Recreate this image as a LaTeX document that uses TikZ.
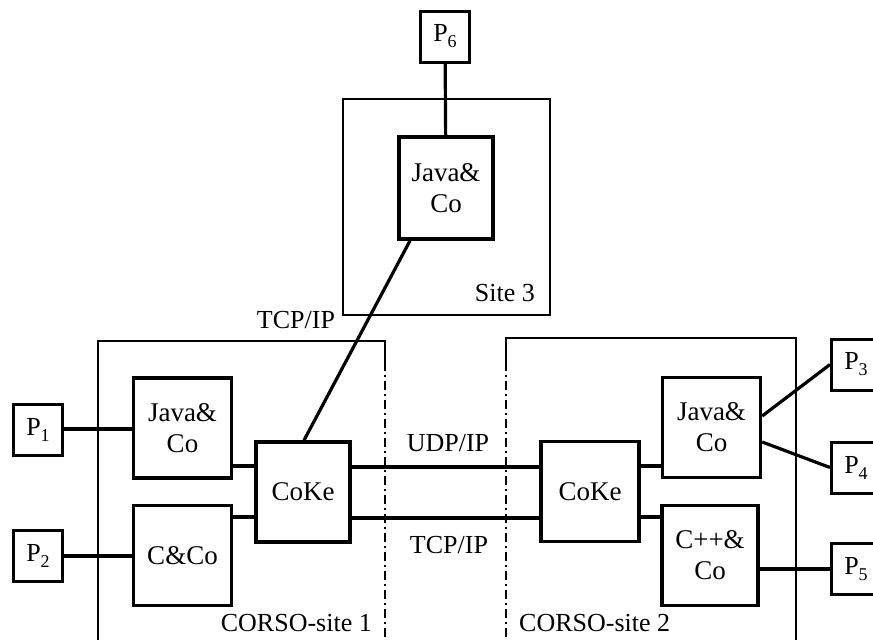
\documentclass[tikz,border=0pt]{standalone}
\usepackage{fontspec}
\setmainfont{Liberation Serif}
\usetikzlibrary{positioning, calc}
\tikzset{
	compbox/.style={draw, line width=3.4pt, minimum width=98pt, minimum height=100pt, align=center, inner sep=0pt, font=\fontsize{27}{31}\selectfont},
	procbox/.style={draw, line width=3pt, minimum width=49pt, minimum height=51pt, inner sep=0pt, font=\fontsize{26}{30}\selectfont},
	conn/.style={line width=3.2pt},
	siteline/.style={line width=1.8pt},
	sitegap/.style={line width=1.8pt, dash pattern=on 9pt off 4pt on 2pt off 4pt},
	lbl/.style={inner sep=0pt, font=\fontsize{26}{30}\selectfont},
}
\newcommand{\proc}[1]{P\raisebox{-0.5ex}{\fontsize{18}{20}\selectfont #1}}

\begin{document}
\begin{tikzpicture}[x=1pt, y=-1pt]
	\useasboundingbox (0,0) rectangle (873,640);
	% site frames
	\draw[siteline] (343,99) rectangle (550,315);
	\draw[siteline] (98,640) -- (98,341) -- (385,341) -- (385,362);
	\draw[sitegap] (385,362) -- (385,640);
	\draw[siteline] (506,362) -- (506,338) -- (796,338) -- (796,640);
	\draw[sitegap] (506,362) -- (506,640);
	% site 3
	\node[procbox] (p6) at (445,36.5) {\proc{6}};
	\node[compbox, minimum width=94pt, minimum height=102pt] (java3) at (446,188) {Java\&\\Co};
	% site 1
	\node[procbox] (p1) at (38,430) {\proc{1}};
	\node[procbox] (p2) at (38,556) {\proc{2}};
	\node[compbox] (java1) at (182.5,428) {Java\&\\Co};
	\node[compbox] (cco1) at (182.5,555.5) {C\&Co};
	\node[compbox, minimum width=94pt] (coke1) at (303,492) {CoKe};
	% site 2
	\node[compbox] (coke2) at (590,491.5) {CoKe};
	\node[compbox] (java2) at (711.5,427.5) {Java\&\\Co};
	\node[compbox, minimum width=96pt] (cpp2) at (710,555.5) {C++\&\\Co};
	\node[procbox] (p3) at (856,364.5) {\proc{3}};
	\node[procbox] (p4) at (856,467.5) {\proc{4}};
	\node[procbox] (p5) at (856,569) {\proc{5}};
	% connectors
	\draw[conn] (p6) -- (java3);
	\draw[conn] ([xshift=-36pt]java3.south) -- ([xshift=1pt]coke1.north);
	\draw[conn] (p1.east |- 0,429) -- (java1.west |- 0,429);
	\draw[conn] (p2) -- (cco1.west |- p2);
	\draw[conn] (java1.east |- 0,466) -- (coke1.west |- 0,466);
	\draw[conn] (cco1.east |- 0,517) -- (coke1.west |- 0,517);
	\draw[conn] (coke1.east |- 0,467) -- (coke2.west |- 0,467);
	\draw[conn] (coke1.east |- 0,518) -- (coke2.west |- 0,518);
	\draw[conn] (coke2.east |- 0,466) -- (java2.west |- 0,466);
	\draw[conn] (coke2.east |- 0,517) -- (cpp2.west |- 0,517);
	\draw[conn] (java2.east |- 0,416) -- (p3.west);
	\draw[conn] (java2.east |- 0,442) -- (p4.west);
	\draw[conn] (cpp2.east |- p5) -- (p5);
	% labels
	\node[lbl] (tcp3) at (296,320) {TCP/IP};
	\node[lbl] (udp) at (448,443) {UDP/IP};
	\node[lbl] (tcp12) at (449,545) {TCP/IP};
	\node[lbl, anchor=south east] (site3) at (535,302) {Site 3};
	\node[lbl, anchor=south east] (site1) at (372,632) {CORSO-site 1};
	\node[lbl, anchor=south west] (site2) at (519,632) {CORSO-site 2};
\end{tikzpicture}
\end{document}
